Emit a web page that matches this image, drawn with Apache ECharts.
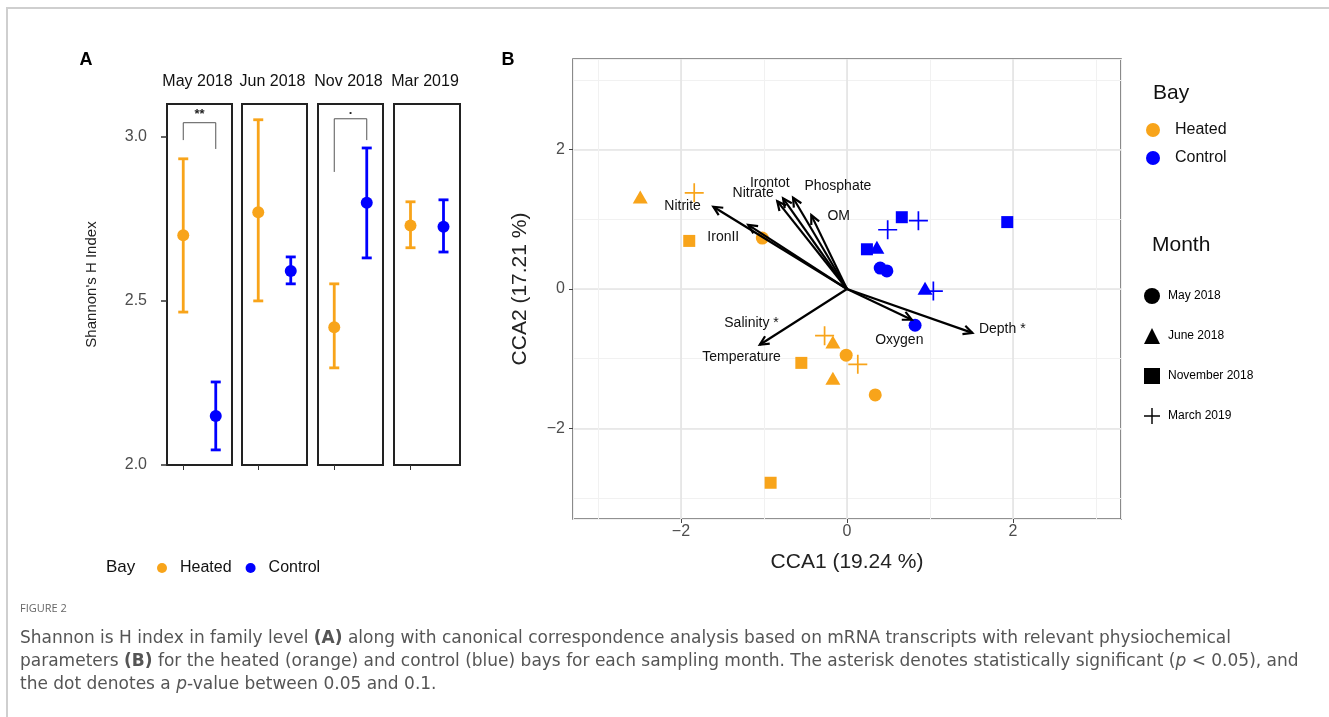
<!DOCTYPE html>
<html>
<head>
<meta charset="utf-8">
<script src="https://cdn.jsdelivr.net/npm/echarts@6/dist/echarts.min.js"></script>
<style>
html,body{margin:0;padding:0;background:#fff;}
#main{width:1329px;height:717px;}
</style>
</head>
<body>
<div id="main"></div>
<script>
// ---- panel A : Shannon's H index (mean and error bar per month / bay)
var months = ['May 2018', 'Jun 2018', 'Nov 2018', 'Mar 2019'];
var bays = ['Heated', 'Control'];
var heatedMean = [2.70, 2.77, 2.42, 2.73];
var heatedLow = [2.466, 2.50, 2.296, 2.662];
var heatedHigh = [2.933, 3.052, 2.552, 2.802];
var controlMean = [2.149, 2.591, 2.799, 2.726];
var controlLow = [2.046, 2.552, 2.631, 2.649];
var controlHigh = [2.253, 2.634, 2.966, 2.808];
var yTicksA = [2.0, 2.5, 3.0];
// significance brackets (facet, bracket top, left leg end, right leg end, mark)
var sigFacet = [0, 2];
var sigTop = [3.043, 3.055];
var sigLeftEnd = [2.99, 2.893];
var sigRightEnd = [2.963, 2.99];
var sigMark = ['**', '.'];

// ---- panel B : CCA samples
var ccaX = [-2.49, -1.84, -1.90, -1.02, -0.27, -0.17, -0.01, 0.13, -0.55, -0.17, 0.34, -0.92,
            0.66, 0.86, 0.49, 1.93, 0.24, 0.36, 0.40, 0.48, 0.94, 1.04, 0.82];
var ccaY = [1.32, 1.38, 0.69, 0.73, -0.67, -0.76, -0.95, -1.08, -1.06, -1.28, -1.52, -2.78,
            1.03, 0.98, 0.85, 0.96, 0.57, 0.60, 0.30, 0.26, 0.01, -0.03, -0.52];
var ccaMonth = ['June 2018', 'March 2019', 'November 2018', 'May 2018', 'March 2019', 'June 2018',
                'May 2018', 'March 2019', 'November 2018', 'June 2018', 'May 2018', 'November 2018',
                'November 2018', 'March 2019', 'March 2019', 'November 2018', 'November 2018', 'June 2018',
                'May 2018', 'May 2018', 'June 2018', 'March 2019', 'May 2018'];
var ccaBay = ['Heated', 'Heated', 'Heated', 'Heated', 'Heated', 'Heated', 'Heated', 'Heated', 'Heated', 'Heated', 'Heated', 'Heated',
              'Control', 'Control', 'Control', 'Control', 'Control', 'Control', 'Control', 'Control', 'Control', 'Control', 'Control'];
var monthNames = ['May 2018', 'June 2018', 'November 2018', 'March 2019'];

// environmental vectors (arrow tips)
var envNames = ['Nitrite', 'IronII', 'Nitrate', 'Irontot', 'Phosphate', 'OM', 'Oxygen', 'Depth', 'Temperature'];
var envX = [-1.61, -1.19, -0.84, -0.77, -0.65, -0.43, 0.78, 1.51, -1.05];
var envY = [1.18, 0.92, 1.26, 1.30, 1.31, 1.06, -0.44, -0.63, -0.80];
// vector labels
var labelText = ['Nitrite', 'IronII', 'Nitrate', 'Irontot', 'Phosphate', 'OM', 'Salinity *', 'Temperature', 'Oxygen', 'Depth *'];
var labelX = [-1.98, -1.49, -1.13, -0.93, -0.11, -0.10, -1.15, -1.27, 0.63, 1.87];
var labelY = [1.19, 0.75, 1.38, 1.52, 1.48, 1.05, -0.49, -0.98, -0.73, -0.57];
var ccaTicks = [-2, 0, 2];

var ORANGE = '#F8A41A';
var BLUE = '#0000FF';
var FONT = 'Liberation Sans';
var bayColor = {Heated: ORANGE, Control: BLUE};
var monthSymbol = {
  'May 2018': 'circle',
  'June 2018': 'triangle',
  'November 2018': 'rect',
  'March 2019': 'path://M-1,-0.09L1,-0.09L1,0.09L-1,0.09Z M-0.09,-1L0.09,-1L0.09,1L-0.09,1Z'
};
var monthSize = {'May 2018': 13, 'June 2018': [15, 13], 'November 2018': 12, 'March 2019': 19};

function minus(v) {
  return v < 0 ? '\u2212' + Math.abs(v) : String(v);
}

//误差棒
function renderErrorBar(params, api) {
  var x = api.value(0);
  var lo = api.coord([x, api.value(1)]);
  var hi = api.coord([x, api.value(2)]);
  var w = 5;
  var st = {stroke: api.visual('color'), lineWidth: 2.8, fill: null};
  return {
    type: 'group',
    children: [
      {type: 'line', shape: {x1: lo[0], y1: lo[1], x2: hi[0], y2: hi[1]}, style: st},
      {type: 'line', shape: {x1: lo[0] - w, y1: lo[1], x2: lo[0] + w, y2: lo[1]}, style: st},
      {type: 'line', shape: {x1: hi[0] - w, y1: hi[1], x2: hi[0] + w, y2: hi[1]}, style: st}
    ]
  };
}

//显著性括号
function renderBracket(params, api) {
  var a = api.coord([0, api.value(1)]);
  var b = api.coord([0, api.value(0)]);
  var c = api.coord([1, api.value(0)]);
  var d = api.coord([1, api.value(2)]);
  return {
    type: 'group',
    children: [
      {type: 'polyline', shape: {points: [a, b, c, d]}, style: {stroke: '#555', lineWidth: 1, fill: null}},
      {type: 'text', x: (b[0] + c[0]) / 2, y: b[1] - 2,
        style: {text: sigMark[api.value(3)], fontSize: 13, fontWeight: 'bold', fontFamily: FONT, fill: '#222',
          align: 'center', textAlign: 'center', verticalAlign: 'bottom', textVerticalAlign: 'bottom'}}
    ]
  };
}

//箭头
function renderArrow(params, api) {
  var o = api.coord([0, 0]);
  var t = api.coord([api.value(0), api.value(1)]);
  var ang = Math.atan2(t[1] - o[1], t[0] - o[0]);
  var len = 10, spread = 0.45;
  var st = {stroke: '#000', lineWidth: 2.2, fill: null};
  return {
    type: 'group',
    children: [
      {type: 'line', shape: {x1: o[0], y1: o[1], x2: t[0], y2: t[1]}, style: st},
      {type: 'polyline', shape: {points: [
        [t[0] - len * Math.cos(ang - spread), t[1] - len * Math.sin(ang - spread)],
        [t[0], t[1]],
        [t[0] - len * Math.cos(ang + spread), t[1] - len * Math.sin(ang + spread)]
      ]}, style: st}
    ]
  };
}

function renderLabel(params, api) {
  var p = api.coord([api.value(0), api.value(1)]);
  return {
    type: 'text', x: p[0], y: p[1],
    style: {text: labelText[params.dataIndex], fontSize: 14, fontFamily: FONT, fill: '#111',
      align: 'center', textAlign: 'center', verticalAlign: 'middle', textVerticalAlign: 'middle'}
  };
}

var facetLeft = [167, 242, 318, 394];
var facetWidth = [65, 65, 65, 66];
var grids = [], xAxes = [], yAxes = [], series = [], graphics = [];

for (var i = 0; i < months.length; i++) {
  grids.push({left: facetLeft[i], top: 104, width: facetWidth[i], height: 361,
    show: true, borderColor: '#222', borderWidth: 2, backgroundColor: '#fff'});
  xAxes.push({
    type: 'category', gridIndex: i, data: bays,
    axisLine: {show: false, onZero: false},
    axisTick: {show: true, alignWithLabel: true, length: 5, lineStyle: {color: '#333', width: 1}},
    axisLabel: {show: false}, splitLine: {show: false}
  });
  yAxes.push({
    type: 'value', gridIndex: i, min: 2.0, max: 3.1,
    name: i === 0 ? "Shannon's H Index" : '', nameLocation: 'middle', nameGap: 68,
    nameTextStyle: {fontSize: 15, fontFamily: FONT, color: '#222'},
    axisLine: {show: false, onZero: false},
    axisTick: {show: i === 0, length: 6, customValues: yTicksA, lineStyle: {color: '#333', width: 1.5}},
    axisLabel: {show: i === 0, margin: 20, customValues: yTicksA, fontSize: 16, fontFamily: FONT, color: '#4D4D4D',
      formatter: function (v) { return v.toFixed(1); }},
    splitLine: {show: false}
  });
  series.push({
    type: 'custom', xAxisIndex: i, yAxisIndex: i, renderItem: renderErrorBar, z: 2,
    encode: {x: 0, y: [1, 2]},
    data: [
      {value: [0, heatedLow[i], heatedHigh[i]], itemStyle: {color: ORANGE}},
      {value: [1, controlLow[i], controlHigh[i]], itemStyle: {color: BLUE}}
    ]
  });
  series.push({type: 'scatter', name: 'Heated', xAxisIndex: i, yAxisIndex: i, symbol: 'circle', symbolSize: 12, z: 3,
    itemStyle: {color: ORANGE, opacity: 1}, data: [[0, heatedMean[i]]]});
  series.push({type: 'scatter', name: 'Control', xAxisIndex: i, yAxisIndex: i, symbol: 'circle', symbolSize: 12, z: 3,
    itemStyle: {color: BLUE, opacity: 1}, data: [[1, controlMean[i]]]});
  graphics.push({type: 'text', x: facetLeft[i] + facetWidth[i] / 2 - 2, y: 82,
    style: {text: months[i], fontSize: 16, fontFamily: FONT, fill: '#111',
      align: 'center', textAlign: 'center', verticalAlign: 'middle', textVerticalAlign: 'middle'}});
}
for (var k = 0; k < sigFacet.length; k++) {
  series.push({type: 'custom', xAxisIndex: sigFacet[k], yAxisIndex: sigFacet[k], renderItem: renderBracket, z: 4,
    data: [[sigTop[k], sigLeftEnd[k], sigRightEnd[k], k]]});
}

// ---- panel B grid (index 4)
var G = months.length;
grids.push({left: 573, top: 59, width: 548, height: 460, show: true, borderColor: '#6e6e6e', borderWidth: 1.6});
// minor grid lines at every unit
xAxes.push({type: 'value', gridIndex: G, min: -3.3, max: 3.3,
  axisLine: {show: false, onZero: false}, axisTick: {show: false}, axisLabel: {show: false},
  splitLine: {show: true, lineStyle: {color: '#f1f1f1', width: 1}}});
yAxes.push({type: 'value', gridIndex: G, min: -3.3, max: 3.3,
  axisLine: {show: false, onZero: false}, axisTick: {show: false}, axisLabel: {show: false},
  splitLine: {show: true, lineStyle: {color: '#f1f1f1', width: 1}}});
// labelled axes with major grid lines
xAxes.push({type: 'value', gridIndex: G, min: -3.3, max: 3.3, position: 'bottom',
  name: 'CCA1 (19.24 %)', nameLocation: 'middle', nameGap: 33,
  nameTextStyle: {fontSize: 21, fontFamily: FONT, color: '#222'},
  axisLine: {show: false, onZero: false},
  axisTick: {show: true, length: 4, customValues: ccaTicks, lineStyle: {color: '#444'}},
  axisLabel: {customValues: ccaTicks, margin: 5, fontSize: 16, fontFamily: FONT, color: '#4D4D4D', formatter: minus},
  splitLine: {show: true, lineStyle: {color: '#e4e4e4', width: 1.6}}});
yAxes.push({type: 'value', gridIndex: G, min: -3.3, max: 3.3, position: 'left',
  name: 'CCA2 (17.21 %)', nameLocation: 'middle', nameGap: 42,
  nameTextStyle: {fontSize: 21, fontFamily: FONT, color: '#222'},
  axisLine: {show: false, onZero: false},
  axisTick: {show: true, length: 4, customValues: ccaTicks, lineStyle: {color: '#444'}},
  axisLabel: {customValues: ccaTicks, margin: 8, fontSize: 16, fontFamily: FONT, color: '#4D4D4D', formatter: minus},
  splitLine: {show: true, lineStyle: {color: '#e4e4e4', width: 1.6}}});

// samples, one series per month, colour per bay
for (var m = 0; m < monthNames.length; m++) {
  var pts = [];
  for (var j = 0; j < ccaX.length; j++) {
    if (ccaMonth[j] === monthNames[m]) {
      pts.push({value: [ccaX[j], ccaY[j]], itemStyle: {color: bayColor[ccaBay[j]]}});
    }
  }
  series.push({type: 'scatter', name: monthNames[m], xAxisIndex: G, yAxisIndex: G,
    symbol: monthSymbol[monthNames[m]], symbolSize: monthSize[monthNames[m]], z: 3,
    itemStyle: {color: '#000', opacity: 1}, data: pts});
}
var arrowData = [];
for (var a = 0; a < envNames.length; a++) arrowData.push({name: envNames[a], value: [envX[a], envY[a]]});
series.push({type: 'custom', name: 'vectors', xAxisIndex: G, yAxisIndex: G, renderItem: renderArrow, z: 5, data: arrowData});
var labelData = [];
for (var b = 0; b < labelText.length; b++) labelData.push([labelX[b], labelY[b]]);
series.push({type: 'custom', name: 'vector labels', xAxisIndex: G, yAxisIndex: G, renderItem: renderLabel, z: 6, data: labelData});

// ---- other texts
function txt(x, y, s, size, weight, color, align) {
  return {type: 'text', x: x, y: y, style: {text: s, fontSize: size, fontWeight: weight || 'normal', fontFamily: FONT,
    fill: color || '#111', align: align || 'left', textAlign: align || 'left', verticalAlign: 'middle', textVerticalAlign: 'middle'}};
}
graphics.push({type: 'polyline', shape: {points: [[7, 717], [7, 8], [1329, 8]]}, style: {stroke: '#cfcfcf', lineWidth: 2, fill: null}});
graphics.push(txt(86, 60, 'A', 18, 'bold', '#000', 'center'));
graphics.push(txt(508, 60, 'B', 18, 'bold', '#000', 'center'));
graphics.push(txt(106, 567, 'Bay', 17, 'normal', '#111'));
graphics.push(txt(1153, 93, 'Bay', 21, 'normal', '#111'));
graphics.push(txt(1152, 245, 'Month', 21, 'normal', '#111'));

var capFont = 'DejaVu Sans';
var capRich = {
  b: {fontSize: 17, fontFamily: capFont, fontWeight: 'bold', fill: '#555'},
  i: {fontSize: 17, fontFamily: capFont, fontStyle: 'italic', fill: '#555'}
};
var capLines = [
  'Shannon is H index in family level {b|(A)} along with canonical correspondence analysis based on mRNA transcripts with relevant physiochemical',
  'parameters {b|(B)} for the heated (orange) and control (blue) bays for each sampling month. The asterisk denotes statistically significant ({i|p} < 0.05), and',
  'the dot denotes a {i|p}-value between 0.05 and 0.1.'
];
graphics.push({type: 'text', x: 20, y: 609, style: {text: 'FIGURE 2', fontSize: 11, fontFamily: 'Open Sans', fill: '#666',
  verticalAlign: 'middle', textVerticalAlign: 'middle'}});
for (var c = 0; c < capLines.length; c++) {
  graphics.push({type: 'text', x: 20, y: 639 + c * 23, style: {text: capLines[c], rich: capRich, fontSize: 17,
    fontFamily: capFont, fill: '#555', verticalAlign: 'middle', textVerticalAlign: 'middle'}});
}

var option = {
  backgroundColor: '#fff',
  animation: false,
  grid: grids,
  xAxis: xAxes,
  yAxis: yAxes,
  legend: [
    {data: ['Heated', 'Control'], left: 152, top: 555, orient: 'horizontal', icon: 'circle',
      itemWidth: 26, itemHeight: 10, itemGap: 14, selectedMode: false,
      textStyle: {fontSize: 16, fontFamily: FONT, color: '#111'}},
    {data: ['Heated', 'Control'], left: 1141, top: 117, orient: 'vertical', icon: 'circle',
      itemWidth: 28, itemHeight: 14, itemGap: 12, selectedMode: false,
      textStyle: {fontSize: 16, fontFamily: FONT, color: '#111', padding: [0, 0, 0, 3]}},
    {data: monthNames, left: 1139, top: 283, orient: 'vertical',
      itemWidth: 16, itemHeight: 16, itemGap: 24, selectedMode: false,
      textStyle: {fontSize: 12, fontFamily: FONT, color: '#000', padding: [0, 0, 0, 3]}}
  ],
  graphic: graphics,
  series: series
};

var myChart = echarts.init(document.getElementById('main'));
myChart.setOption(option);
</script>
</body>
</html>
